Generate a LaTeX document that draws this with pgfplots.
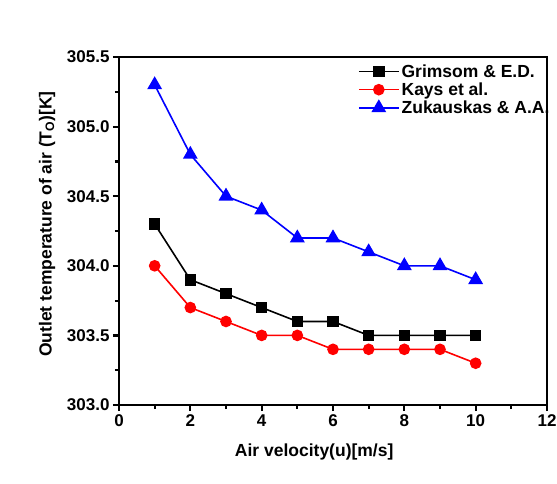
\documentclass[border=0pt]{standalone}
\usepackage{pgfplots}
\pgfplotsset{compat=1.18}
\usepackage{fontspec}
\setmainfont{Liberation Sans}
\begin{document}
\begin{tikzpicture}
\begin{axis}[name=ax, at={(0,0)}, anchor=south west,
  scale only axis, width=428pt, height=348pt,
  xmin=0, xmax=12, ymin=303, ymax=305.5,
  xtick={0,2,4,6,8,10,12}, minor x tick num=1,
  ytick={303,303.5,304,304.5,305,305.5}, minor y tick num=1,
  axis line style={line width=2.6pt},
  tick style={line width=2.2pt, black},
  major tick length=6pt, minor tick length=4pt,
  tick align=outside, xtick pos=bottom, ytick pos=left,
  /pgf/number format/assume math mode=true,
  y tick label style={/pgf/number format/fixed, /pgf/number format/fixed zerofill, /pgf/number format/precision=1},
  ticklabel style={font=\bfseries\fontsize{17}{19}\selectfont},
  label style={font=\bfseries\fontsize{17.5}{20}\selectfont},
  xlabel={Air velocity(u)[m/s]},
  ylabel={Outlet temperature of air (T\textsubscript{O})[K]},
  xlabel style={at={(axis description cs:0.456,-0.135)}, anchor=center},
  ylabel style={at={(axis description cs:-0.168,0.52)}, anchor=center},
  legend style={draw=none, fill=none, at={(0.558,0.985)}, anchor=north west,
    font=\bfseries\fontsize{17.5}{22}\selectfont, row sep=0pt, inner sep=0pt},
  legend cell align=left,
  legend image code/.code={\draw[mark repeat=2,mark phase=2] plot coordinates {(0pt,0pt)(20pt,0pt)(40pt,0pt)};},
]
\addplot[black, line width=1.6pt, mark=square*, mark size=5pt] coordinates {
(1,304.3)(2,303.9)(3,303.8)(4,303.7)(5,303.6)(6,303.6)(7,303.5)(8,303.5)(9,303.5)(10,303.5)};
\addlegendentry{Grimsom \& E.D.}
\addplot[red, line width=1.6pt, mark=*, mark size=5pt] coordinates {
(1,304.0)(2,303.7)(3,303.6)(4,303.5)(5,303.5)(6,303.4)(7,303.4)(8,303.4)(9,303.4)(10,303.3)};
\addlegendentry{Kays et al.}
\addplot[blue, line width=1.6pt, mark=triangle*, mark size=7pt] coordinates {
(1,305.3)(2,304.8)(3,304.5)(4,304.4)(5,304.2)(6,304.2)(7,304.1)(8,304.0)(9,304.0)(10,303.9)};
\addlegendentry{Zukauskas \& A.A.}
\end{axis}
\pgfresetboundingbox
\path (-119pt,-78pt) rectangle (438pt,405pt);
\end{tikzpicture}
\end{document}
